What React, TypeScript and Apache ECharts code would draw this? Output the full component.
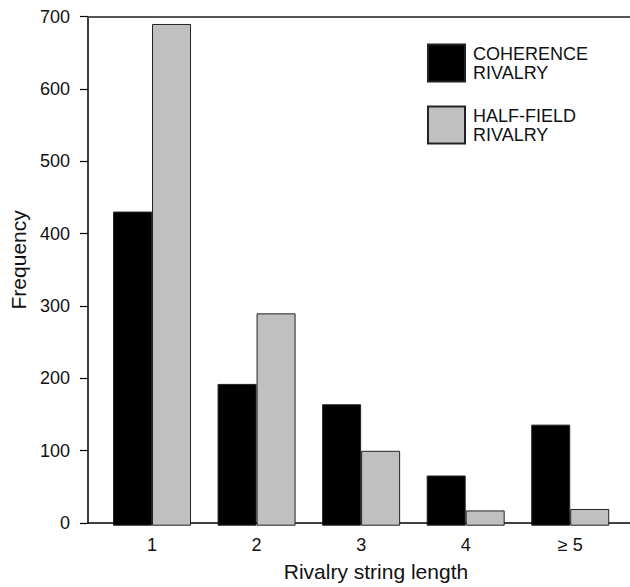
import React, { useEffect, useRef } from "react";
import * as echarts from "echarts";

const categories = ["1", "2", "3", "4", "≥ 5"];
const coherenceRivalry = [432, 195, 167, 69, 139];
const halfFieldRivalry = [690, 292, 103, 21, 23];
const seriesNames = ["COHERENCE\nRIVALRY", "HALF-FIELD\nRIVALRY"];
const xAxisTitle = "Rivalry string length";
const yAxisTitle = "Frequency";

const FONT = "'Liberation Sans', Arial, Helvetica, sans-serif";

export default function App() {
  const ref = useRef<HTMLDivElement>(null);
  useEffect(() => {
    if (!ref.current) return;
    const chart = echarts.init(ref.current, null, { renderer: "svg" });
    const top = 16.7;
    const bottom = 587 - 525.7;
    chart.setOption({
      animation: false,
      backgroundColor: "#fff",
      textStyle: { fontFamily: FONT },
      grid: [
        { left: 87.5, right: 0, top, bottom },
        { left: 99.75, right: 7.5, top, bottom },
      ],
      legend: {
        orient: "vertical",
        left: 427,
        top: 43.5,
        padding: 0,
        itemWidth: 37,
        itemHeight: 37,
        itemGap: 23,
        icon: "rect",
        selectedMode: false,
        data: seriesNames,
        textStyle: {
          fontFamily: FONT,
          fontSize: 18,
          lineHeight: 19,
          color: "#111",
          padding: [0, 0, 0, 3],
        },
      },
      xAxis: [
        {
          gridIndex: 0,
          type: "value",
          min: 0,
          max: 1,
          position: "bottom",
          axisLine: { show: true, onZero: false, lineStyle: { color: "#000", width: 1.5 } },
          axisTick: { show: false },
          axisLabel: { show: false },
          splitLine: { show: false },
          name: xAxisTitle,
          nameLocation: "middle",
          nameGap: 38,
          nameTextStyle: { fontFamily: FONT, fontSize: 21, color: "#111", padding: [0, 0, 0, 34] },
        },
        {
          gridIndex: 0,
          type: "value",
          min: 0,
          max: 1,
          position: "top",
          axisLine: { show: true, onZero: false, lineStyle: { color: "#555", width: 2 } },
          axisTick: { show: false },
          axisLabel: { show: false },
          splitLine: { show: false },
        },
        {
          gridIndex: 1,
          type: "category",
          data: categories,
          axisLine: { show: false },
          axisTick: { show: false },
          axisLabel: { fontFamily: FONT, fontSize: 18, margin: 10, color: "#111" },
          splitLine: { show: false },
        },
      ],
      yAxis: [
        {
          gridIndex: 0,
          type: "value",
          min: 0,
          max: 700,
          interval: 100,
          axisLine: { show: true, onZero: false, lineStyle: { color: "#000", width: 1.5 } },
          axisTick: { show: true, length: 8, inside: false, lineStyle: { color: "#000", width: 1.2 } },
          axisLabel: { fontFamily: FONT, fontSize: 18, margin: 18, color: "#111" },
          splitLine: { show: false },
          name: yAxisTitle,
          nameLocation: "middle",
          nameGap: 57,
          nameTextStyle: { fontFamily: FONT, fontSize: 21, color: "#111", padding: [0, 0, 0, 20] },
        },
        {
          gridIndex: 1,
          type: "value",
          min: 0,
          max: 700,
          show: false,
        },
      ],
      series: [
        {
          name: seriesNames[0],
          type: "bar",
          xAxisIndex: 2,
          yAxisIndex: 1,
          data: coherenceRivalry,
          barWidth: 39,
          barGap: "0%",
          itemStyle: { color: "#000", borderColor: "#222", borderWidth: 1 },
        },
        {
          name: seriesNames[1],
          type: "bar",
          xAxisIndex: 2,
          yAxisIndex: 1,
          data: halfFieldRivalry,
          barWidth: 39,
          barGap: "0%",
          itemStyle: { color: "#c0c0c0", borderColor: "#222", borderWidth: 1 },
        },
      ],
    });
    return () => chart.dispose();
  }, []);
  return (
    <div
      ref={ref}
      style={{ position: "absolute", left: 0, top: 0, width: 630, height: 587 }}
    />
  );
}
